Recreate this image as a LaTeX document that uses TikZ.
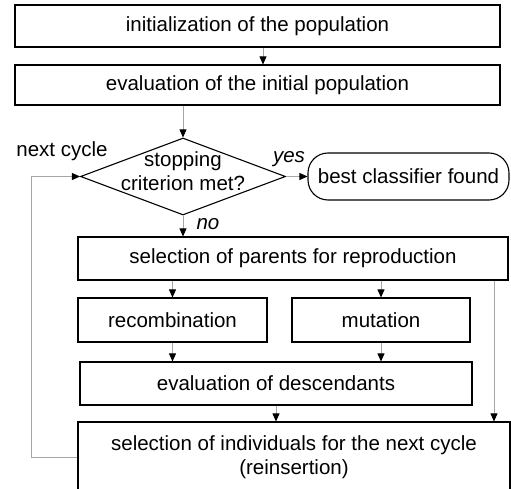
\documentclass[tikz,border=0pt]{standalone}
\usepackage{fontspec}
\setmainfont{Liberation Sans}
\usetikzlibrary{shapes.geometric,arrows.meta}
\tikzset{
  box/.style={draw=black,line width=1.1pt,rectangle,inner sep=0pt,align=center,font=\fontsize{20.5}{24}\selectfont},
  lbl/.style={inner sep=0pt,font=\fontsize{20.5}{24}\selectfont},
  arr/.style={draw=gray!70,line width=0.8pt,-{Triangle[length=8pt,width=7pt,color=black]}},
}
\begin{document}
\begin{tikzpicture}[x=1pt,y=-1pt]
\useasboundingbox (0,0) rectangle (511,489);
\node[box,minimum width=485pt,minimum height=42pt] (init) at (257.5,26) {initialization of the population};
\node[box,minimum width=485pt,minimum height=40pt] (evinit) at (257.5,85) {evaluation of the initial population};
\node[draw=black,line width=1.1pt,diamond,minimum width=205pt,minimum height=77pt,inner sep=0pt] (dia) at (183,176.5) {};
\node[lbl,align=center] (diatxt) at (183,171) {stopping\\criterion met?};
\node[box,rounded corners=20pt,minimum width=201pt,minimum height=47pt] (best) at (408.5,176.5) {best classifier found};
\node[box,minimum width=430pt,minimum height=43pt] (par) at (293,258.5) {selection of parents for reproduction};
\node[box,minimum width=189pt,minimum height=44pt] (rec) at (172.5,320) {recombination};
\node[box,minimum width=178pt,minimum height=44pt] (mut) at (381,320) {mutation};
\node[box,minimum width=392pt,minimum height=43pt] (desc) at (276,383.5) {evaluation of descendants};
\node[box,minimum width=432pt,minimum height=71pt] (fin) at (294,457.5) {selection of individuals for the next cycle\\(reinsertion)};
\node[lbl] (next) at (62,151) {next cycle};
\node[lbl,font=\fontsize{20.5}{24}\selectfont\itshape] (yes) at (289,159) {yes};
\node[lbl,font=\fontsize{20.5}{24}\selectfont\itshape] (no) at (208,224) {no};
\coordinate (xa) at (263,0);
\coordinate (xr) at (494,0);
\draw[arr] (init.south -| xa) -- (evinit.north -| xa);
\draw[arr] (evinit.south -| dia.north) -- (dia.north);
\draw[arr] (dia.east) -- (best.west);
\draw[arr] (dia.south) -- (par.north -| dia.south);
\draw[arr] (par.south -| rec.north) -- (rec.north);
\draw[arr] (par.south -| mut.north) -- (mut.north);
\draw[arr] (rec.south) -- (desc.north -| rec.south);
\draw[arr] (mut.south) -- (desc.north -| mut.south);
\draw[arr] (desc.south) -- (fin.north -| desc.south);
\draw[arr] (par.south -| xr) -- (fin.north -| xr);
\draw[arr] (fin.west) -- ++(-46,0) |- (dia.west);
\end{tikzpicture}
\end{document}
